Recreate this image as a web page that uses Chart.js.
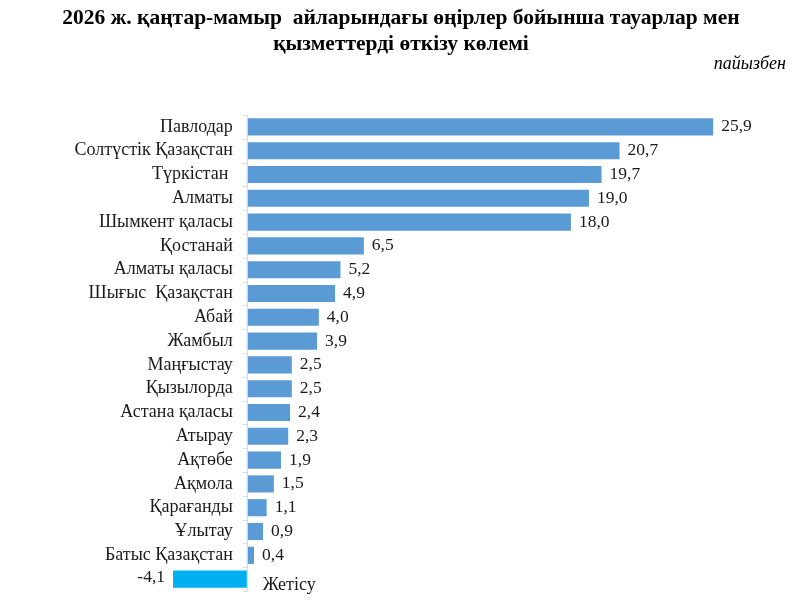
<!DOCTYPE html>
<html>
<head>
<meta charset="utf-8">
<script src="https://cdn.jsdelivr.net/npm/chart.js@4/dist/chart.umd.min.js"></script>
<style>
html,body{margin:0;padding:0;background:#fff;}
#wrap{width:803px;height:601px;position:relative;}
</style>
</head>
<body>
<div id="wrap"><canvas id="c" width="803" height="601"></canvas></div>
<script>
const titleLines = ['2026 ж. қаңтар-мамыр  айларындағы өңірлер бойынша тауарлар мен', 'қызметтерді өткізу көлемі'];
const unitLabel = 'пайызбен';
const regions = ['Павлодар','Солтүстік Қазақстан','Түркістан ','Алматы','Шымкент қаласы','Қостанай','Алматы қаласы','Шығыс  Қазақстан','Абай','Жамбыл','Маңғыстау','Қызылорда','Астана қаласы','Атырау','Ақтөбе','Ақмола','Қарағанды','Ұлытау','Батыс Қазақстан','Жетісу'];
const values = [25.9,20.7,19.7,19.0,18.0,6.5,5.2,4.9,4.0,3.9,2.5,2.5,2.4,2.3,1.9,1.5,1.1,0.9,0.4,-4.1];

const POS = '#5B9BD5', NEG = '#00B0F0';
const fmt = v => v.toFixed(1).replace('.', ',');

const labelsPlugin = {
  id: 'customLabels',
  afterDatasetsDraw(chart) {
    const ctx = chart.ctx;
    const xs = chart.scales.x, ys = chart.scales.y;
    const x0 = xs.getPixelForValue(0);
    const area = chart.chartArea;
    ctx.save();
    // axis line & ticks
    ctx.strokeStyle = '#d9d9d9';
    ctx.lineWidth = 1;
    ctx.beginPath();
    ctx.moveTo(Math.round(x0) + 0.5, area.top);
    ctx.lineTo(Math.round(x0) + 0.5, area.bottom);
    const n = regions.length;
    const step = (area.bottom - area.top) / n;
    for (let i = 0; i <= n; i++) {
      const y = Math.round(area.top + i * step) + 0.5;
      ctx.moveTo(Math.round(x0) - 4, y);
      ctx.lineTo(Math.round(x0) + 0.5, y);
    }
    ctx.stroke();
    ctx.fillStyle = '#1a1a1a';
    ctx.textBaseline = 'middle';
    const catFont = '18px "Liberation Serif", "Times New Roman", serif';
    const valFont = '17.5px "Liberation Serif", "Times New Roman", serif';
    regions.forEach((r, i) => {
      const y = ys.getPixelForValue(i);
      const v = values[i];
      const xe = xs.getPixelForValue(v);
      if (v >= 0) {
        ctx.font = catFont;
        ctx.textAlign = 'right';
        ctx.fillText(r, x0 - 14, y);
        ctx.font = valFont;
        ctx.textAlign = 'left';
        ctx.fillText(fmt(v), xe + 8, y);
      } else {
        ctx.font = catFont;
        ctx.textAlign = 'left';
        ctx.fillText(r, x0 + 16, y + 6);
        ctx.font = valFont;
        ctx.textAlign = 'right';
        ctx.fillText(fmt(v), xe - 8, y - 2);
      }
    });
    // title
    ctx.textAlign = 'center';
    ctx.fillStyle = '#000';
    ctx.font = 'bold 21.5px "Liberation Serif", "Times New Roman", serif';
    ctx.fillText(titleLines[0], 401, 18);
    ctx.fillText(titleLines[1], 401, 44);
    ctx.textAlign = 'right';
    ctx.font = 'italic 18px "Liberation Serif", "Times New Roman", serif';
    ctx.fillText(unitLabel, 786, 64);
    ctx.restore();
  }
};

new Chart(document.getElementById('c'), {
  type: 'bar',
  data: {
    labels: regions,
    datasets: [{
      data: values,
      backgroundColor: values.map(v => v < 0 ? NEG : POS),
      barPercentage: 0.72,
      categoryPercentage: 1.0,
      borderWidth: 0
    }]
  },
  options: {
    indexAxis: 'y',
    responsive: false,
    animation: false,
    layout: { padding: { left: 173, right: 16, top: 115, bottom: 10 } },
    scales: {
      x: { display: false, min: -4.1, max: 30 },
      y: { display: false }
    },
    plugins: { legend: { display: false }, tooltip: { enabled: false }, title: { display: false } }
  },
  plugins: [labelsPlugin]
});
</script>
</body>
</html>
